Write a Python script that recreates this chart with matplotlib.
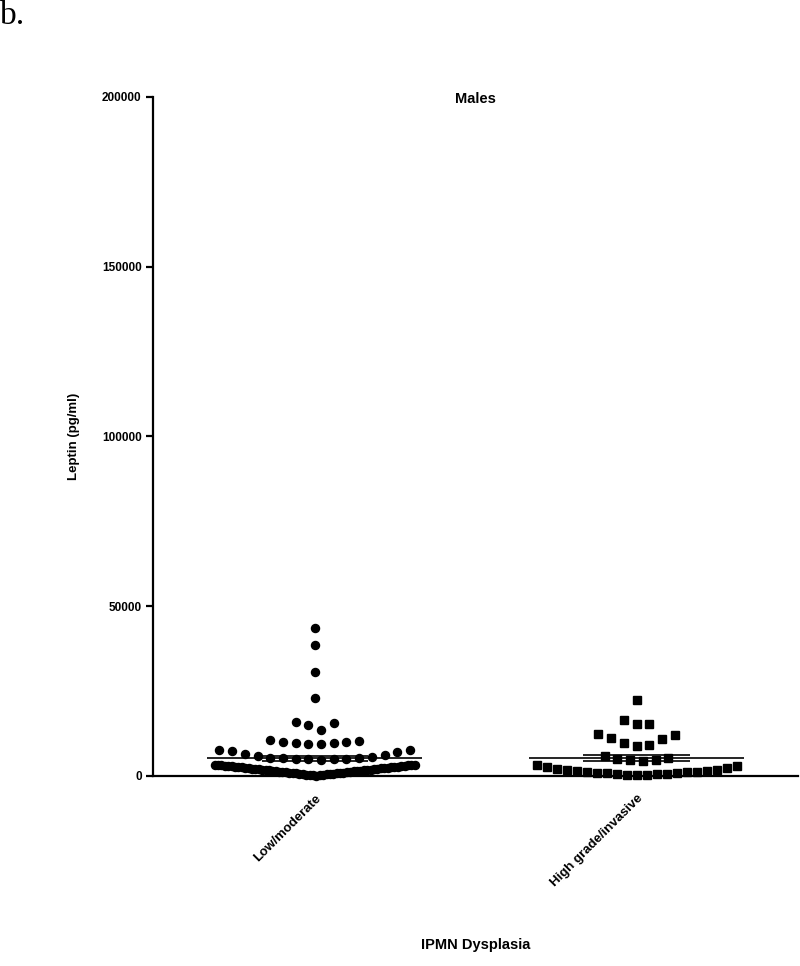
import numpy as np
import matplotlib
matplotlib.use("Agg")
import matplotlib.pyplot as plt

# leptin values (pg/ml)
groups = ["Low/moderate", "High grade/invasive"]
low_mod = [43500, 38500, 30500, 23000,
           16000, 15600, 15000, 13400,
           10300, 10000, 9600, 9400, 9500, 9700, 10100, 10500,
           7600, 7400, 6500, 5900, 5400, 5200, 5000, 4900,
           4800, 5000, 5100, 5300, 5600, 6100, 7000, 7700,
           100, 180, 240, 300, 360, 420, 470, 530, 580, 640,
           690, 750, 800, 860, 910, 970, 1020, 1080, 1130, 1190,
           1240, 1300, 1350, 1410, 1460, 1520, 1570, 1630, 1680, 1740,
           1790, 1850, 1900, 1960, 2010, 2070, 2120, 2180, 2230, 2290,
           2340, 2400, 2450, 2510, 2560, 2620, 2680, 2730, 2790, 2840,
           2900, 2950, 3000, 3050, 3100, 3140, 3180, 3220, 3260, 3300]
high_inv = [22300,
            16500, 15300, 15300,
            12300, 11200, 9700, 8800, 9100, 10900, 12000,
            4400, 4600, 4800, 5100, 5400, 5800,
            200, 300, 400, 500, 600, 700, 800, 900, 1000, 1100,
            1200, 1300, 1500, 1600, 1800, 1900, 2100, 2300, 2600, 2800, 3100]
yticks = [0, 50000, 100000, 150000, 200000]

plt.rcParams['font.family'] = ['Liberation Sans', 'DejaVu Sans']

fig = plt.figure(figsize=(8, 9.66), dpi=100)
ax = fig.add_axes([0.191, 0.1967, 0.807, 0.7029])
ax.set_xlim(-0.503, 1.503)
ax.set_ylim(0, 200000)


def rows_layout(values, row_h, step, max_w):
    # prism-like scatter: points binned into rows, each row spread
    # out from the centre in ascending order
    values = np.asarray(values, float)
    xs = np.zeros(len(values))
    bins = np.floor(values / row_h).astype(int)
    for b in np.unique(bins):
        idx = np.where(bins == b)[0]
        idx = idx[np.argsort(values[idx], kind="stable")]
        n = len(idx)
        s = step if n < 2 else min(step, max_w / (n - 1))
        for j, i in enumerate(idx):
            if n % 2:
                k = (j + 1) // 2
                pos = k if j % 2 else -k
            else:
                k = j // 2 + 0.5
                pos = k if j % 2 == 0 else -k
            xs[i] = pos * s
    return xs


fig.canvas.draw()
p0 = ax.transData.transform((0, 0))
p1 = ax.transData.transform((1, 0))
xpx = p1[0] - p0[0]

for k, (vals, mk, ms) in enumerate([(low_mod, "o", 5.8), (high_inv, "s", 5.6)]):
    off = rows_layout(vals, 4400, 12.7, 200) / xpx
    ax.plot(k + off, vals, ls="none", marker=mk, ms=ms, color="black",
            mec="black", clip_on=False, zorder=3)
    m = np.mean(vals)
    sem = np.std(vals, ddof=1) / np.sqrt(len(vals))
    ax.hlines(m, k - 0.335, k + 0.335, color="black", lw=1.2, zorder=4)
    ax.hlines([m - sem, m + sem], k - 0.165, k + 0.165, color="black", lw=1.2, zorder=4)

for s in ["top", "right"]:
    ax.spines[s].set_visible(False)
ax.spines["left"].set_linewidth(1.6)
ax.spines["bottom"].set_linewidth(1.6)

ax.set_yticks(yticks)
ax.set_yticklabels([str(t) for t in yticks], fontsize=8.5, fontweight="bold")
ax.tick_params(axis="y", length=5, width=1.6, pad=3)
ax.set_xticks([0, 1])
ax.set_xticklabels(groups, rotation=45, ha="right", rotation_mode="anchor",
                   fontsize=9.5, fontweight="bold")
ax.tick_params(axis="x", length=0, pad=12)

ax.set_ylabel("Leptin (pg/ml)", fontsize=9.5, fontweight="bold", labelpad=16)
ax.text(0.5, 0.997, "Males", transform=ax.transAxes, ha="center", va="center",
        fontsize=10.5, fontweight="bold")
fig.text(0.595, 1 - 945 / 966, "IPMN Dysplasia", ha="center", va="center",
         fontsize=10.5, fontweight="bold")
fig.text(0.0, 1.0, "b.", ha="left", va="top", fontsize=24,
         family=["Liberation Serif", "DejaVu Serif"])

fig.savefig("out.png", dpi=100)
